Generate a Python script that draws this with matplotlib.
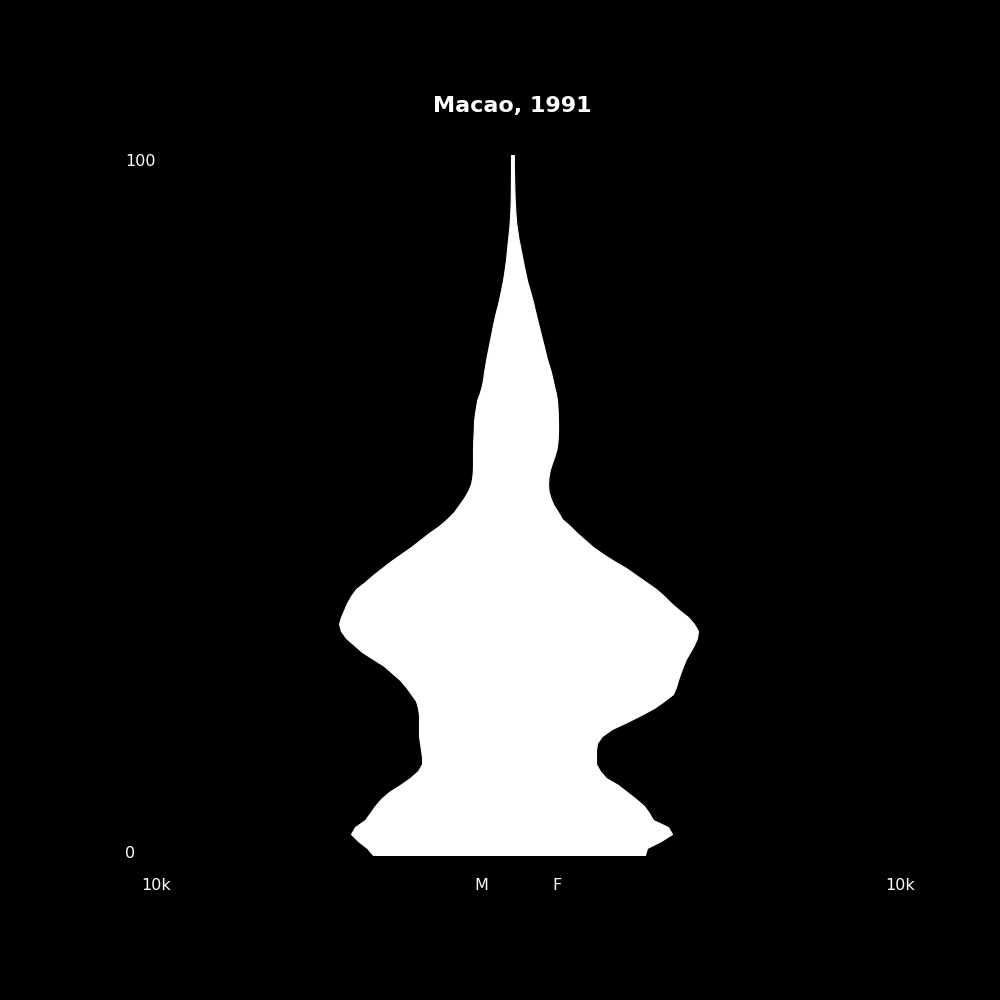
import numpy as np
import matplotlib
matplotlib.use("Agg")
import matplotlib.pyplot as plt

# single-year ages 0..100, population counts
ages = list(range(0, 101))
male = [3600, 3755, 3987, 4168, 4065, 3806, 3677, 3548, 3394, 3187,
        2903, 2645, 2439, 2335, 2335, 2361, 2387, 2413, 2413, 2413,
        2413, 2439, 2490, 2619, 2748, 2903, 3110, 3316, 3600, 3884,
        4090, 4297, 4426, 4477, 4426, 4348, 4271, 4168, 4039, 3806,
        3600, 3368, 3135, 2877, 2619, 2387, 2155, 1897, 1690, 1510,
        1381, 1252, 1148, 1071, 1037, 1022, 1019, 1019, 1019, 1014,
        1006, 998, 993, 970, 942, 911, 846, 792, 759, 733,
        704, 673, 637, 601, 565, 529, 493, 452, 408, 361,
        323, 284, 248, 219, 194, 168, 150, 132, 114, 95,
        77, 65, 57, 49, 45, 43, 41, 40, 39, 39,
        39]
female = [3419, 3471, 3832, 4116, 4013, 3626, 3523, 3394, 3187, 2955,
          2723, 2413, 2258, 2155, 2155, 2155, 2181, 2310, 2568, 2955,
          3316, 3652, 3910, 4142, 4219, 4271, 4335, 4400, 4477, 4580,
          4684, 4761, 4787, 4684, 4529, 4297, 4090, 3910, 3703, 3445,
          3187, 2929, 2619, 2335, 2077, 1871, 1665, 1484, 1277, 1174,
          1058, 980, 929, 916, 929, 962, 1019, 1084, 1135, 1161,
          1171, 1176, 1174, 1169, 1161, 1148, 1117, 1073, 1032, 991,
          937, 882, 839, 795, 748, 704, 658, 614, 570, 529,
          480, 428, 377, 338, 299, 263, 227, 194, 155, 129,
          103, 85, 72, 62, 54, 49, 44, 40, 37, 36,
          35]

title = "Macao, 1991"
xmax = 10000

fig = plt.figure(figsize=(10, 10), dpi=100)
fig.patch.set_facecolor("black")
ax = fig.add_axes([0.125, 0.145, 0.775, 0.70])
ax.set_facecolor("black")

ax.fill_betweenx(ages, -np.array(male), np.array(female),
                 color="white", lw=0.8, edgecolor="white")
ax.set_xlim(-xmax, xmax)
ax.set_ylim(0, 100)
ax.axis("off")

fig.text(0.5125, 0.894, title, color="white", fontsize=16,
         fontweight="bold", ha="center", va="center")
fig.text(0.125, 0.838, "100", color="white", fontsize=11.5, ha="left", va="center")
fig.text(0.125, 0.146, "0", color="white", fontsize=11.5, ha="left", va="center")
fig.text(0.156, 0.114, "10k", color="white", fontsize=11.5, ha="center", va="center")
fig.text(0.900, 0.114, "10k", color="white", fontsize=11.5, ha="center", va="center")
fig.text(0.481, 0.114, "M", color="white", fontsize=11.5, ha="center", va="center")
fig.text(0.557, 0.114, "F", color="white", fontsize=11.5, ha="center", va="center")

fig.savefig("out.png", facecolor=fig.get_facecolor())
